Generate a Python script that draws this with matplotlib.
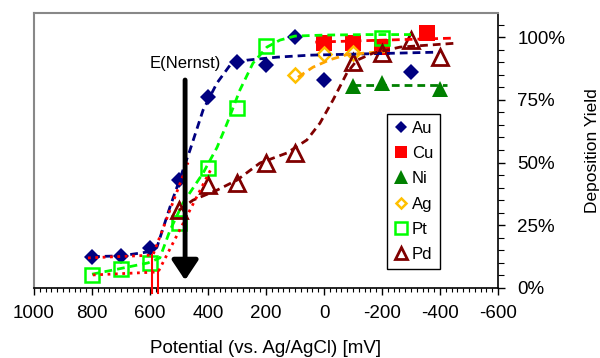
import matplotlib
matplotlib.use('Agg')
import matplotlib.pyplot as plt
from matplotlib.ticker import MultipleLocator, FuncFormatter
from matplotlib.patches import FancyArrowPatch

plt.rcParams['font.family'] = ['Liberation Sans', 'DejaVu Sans']
plt.rcParams['axes.unicode_minus'] = False

# ---- measured points ----
au_x = [800, 700, 600, 500, 400, 300, 200, 100, 0, -300]
au_y = [12.5, 12.7, 16, 43, 76, 90, 89, 100, 83, 86]
cu_x = [0, -100, -200, -355]
cu_y = [97.6, 97.6, 96, 101.6]
ni_x = [-100, -200, -400]
ni_y = [80.5, 81.7, 79.3]
ag_x = [100, 0, -100]
ag_y = [84.9, 93.2, 93.6]
pt_x = [800, 700, 600, 500, 400, 300, 200, -200]
pt_y = [5.2, 7.6, 10, 26, 48, 71.7, 96.4, 99.6]
pd_x = [500, 400, 300, 200, 100, -100, -200, -300, -400]
pd_y = [31, 41, 42, 50, 53.8, 90, 93.6, 99, 92]

# ---- fitted curves ----
au_fit_x = [800, 700, 600, 576, 531, 462, 417, 369, 324, 266, 162, 48, -100, -250, -395]
au_fit_y = [12.5, 12.8, 14.5, 16.3, 32.3, 55, 70.9, 81.7, 88.8, 90.8, 92, 92.8, 93.2, 93.6, 94]
cu_fit_x = [30, -450]
cu_fit_y = [98, 99.6]
ni_fit_x = [-100, -425]
ni_fit_y = [80.9, 80.9]
ag_fit_x = [90, 38, -21, -79, -159, -210]
ag_fit_y = [84, 88, 91, 93, 93.8, 94.2]
pt_fit_x = [800, 700, 607, 566, 531, 486, 417, 369, 334, 290, 245, 197, 152, 100, 0, -150, -300]
pt_fit_y = [5.5, 7.8, 10, 12, 23, 33.9, 45.8, 56, 65.7, 78.9, 89.6, 96, 98.8, 100.4, 100.8, 101, 101]
pd_fit_x = [500, 452, 369, 300, 221, 128, 59, 14, -31, -79, -114, -169, -262, -360, -459]
pd_fit_y = [31, 35, 39, 43, 49.8, 53.8, 59, 65.7, 74.9, 85.7, 90.8, 93.6, 96, 96.8, 97.6]

# linear onset fits (red dotted) and onset markers
onset1_x = [814, 590, 469]
onset1_y = [12, 13.1, 50]
onset2_x = [797, 572, 386]
onset2_y = [5.2, 6.4, 48.2]
vline_x = [592, 574]
vline_top = [13, 6.4]
vline_bottom = -2

nernst_x = 479
nernst_top = 84
nernst_tip = 2

xticks = [1000, 800, 600, 400, 200, 0, -200, -400, -600]
yticks = [0, 25, 50, 75, 100]

fig = plt.figure(figsize=(6, 3.58), dpi=100)
ax = fig.add_axes([34/600, 1-288/358, (498-34)/600, (288-13)/358])

NAVY = '#000080'
RED = '#ff0000'
GREEN = '#008000'
GOLD = '#ffc000'
LIME = '#00ff00'
MAROON = '#800000'
dash = (2.8, 1.8)

lw = 2.0
ax.plot(au_fit_x, au_fit_y, color=NAVY, lw=lw, dashes=dash, zorder=3)
ax.plot(cu_fit_x, cu_fit_y, color=RED, lw=lw, dashes=dash, zorder=3)
ax.plot(ni_fit_x, ni_fit_y, color=GREEN, lw=lw, dashes=dash, zorder=3)
ax.plot(ag_fit_x, ag_fit_y, color='#ffa500', lw=lw, dashes=dash, zorder=3)
ax.plot(pt_fit_x, pt_fit_y, color=LIME, lw=lw, dashes=dash, zorder=3)
ax.plot(pd_fit_x, pd_fit_y, color=MAROON, lw=lw, dashes=dash, zorder=3)

ax.plot(au_x, au_y, 'D', color=NAVY, ms=8, mew=0, zorder=2, label='Au')
ax.plot(cu_x, cu_y, 's', color=RED, ms=11, mew=0, zorder=2, label='Cu')
ax.plot(ni_x, ni_y, '^', color=GREEN, ms=12, mew=0, zorder=2, label='Ni')
ax.plot(ag_x, ag_y, 'D', mfc='white', mec=GOLD, ms=7, mew=1.8, zorder=2, label='Ag')
ax.plot(pt_x, pt_y, 's', mfc='none', mec=LIME, ms=10.5, mew=1.8, zorder=2, label='Pt')
ax.plot(pd_x, pd_y, '^', mfc='none', mec=MAROON, ms=11, mew=2, zorder=2, label='Pd')

ax.plot(onset1_x, onset1_y, color=RED, lw=2, ls=':', zorder=4)
ax.plot(onset2_x, onset2_y, color=RED, lw=2, ls=':', zorder=4)
for vx, vt in zip(vline_x, vline_top):
    ax.plot([vx, vx], [vt, vline_bottom], color=RED, lw=1.5, clip_on=False, zorder=4)

arr = FancyArrowPatch((nernst_x, nernst_top), (nernst_x, nernst_tip),
                      arrowstyle='-|>,head_width=0.4,head_length=0.6',
                      mutation_scale=20, lw=3.5, color='black', zorder=5)
ax.add_patch(arr)
ax.text(nernst_x, 89.6, 'E(Nernst)', ha='center', va='center', fontsize=12)

ax.set_xlim(1000, -600)
ax.set_ylim(0, 109.6)
ax.set_xticks(xticks)
ax.xaxis.set_minor_locator(MultipleLocator(20))
ax.yaxis.tick_right()
ax.yaxis.set_label_position('right')
ax.set_yticks(yticks)
ax.yaxis.set_minor_locator(MultipleLocator(5))
ax.yaxis.set_major_formatter(FuncFormatter(lambda v, p: f'{int(v)}%'))

ax.tick_params(axis='x', which='major', direction='out', length=5, width=1, labelsize=13.5, pad=7)
ax.tick_params(axis='x', which='minor', direction='out', length=3, width=0.8)
ax.tick_params(axis='y', which='major', direction='out', length=5, width=1, labelsize=13.5, pad=9)
ax.tick_params(axis='y', which='minor', direction='out', length=4, width=0.8)

for s in ['left', 'top']:
    ax.spines[s].set_color('#888888')
    ax.spines[s].set_linewidth(1.5)
ax.spines['bottom'].set_linewidth(1.2)
ax.spines['right'].set_linewidth(1.2)

ax.set_xlabel('Potential (vs. Ag/AgCl) [mV]', fontsize=13.5, labelpad=13)
ax.set_ylabel('Deposition Yield', fontsize=12.5, labelpad=14)

leg = ax.legend(loc='upper left', bbox_to_anchor=((387-34)/464, (288-114)/275),
                borderaxespad=0, fontsize=12, frameon=True, fancybox=False,
                edgecolor='black', framealpha=1, handlelength=0.9, handletextpad=0.2,
                labelspacing=0.62, borderpad=0.4, markerscale=0.8)
leg.get_frame().set_linewidth(1.0)

fig.savefig('out.png', dpi=100)
